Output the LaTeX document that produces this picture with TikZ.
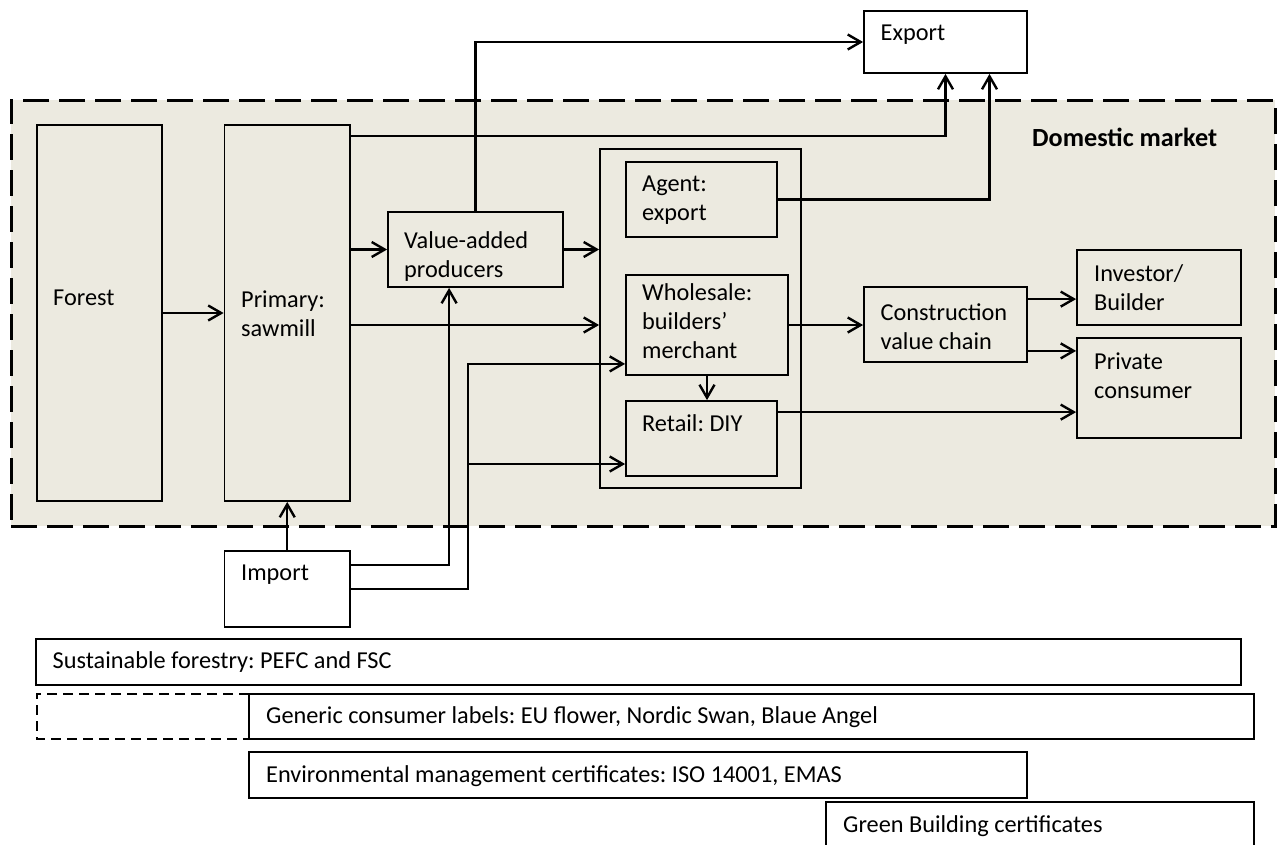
\documentclass[tikz,border=0pt]{standalone}
\usepackage{fontspec}
\setmainfont{Carlito}
\usetikzlibrary{arrows.meta,fit}
\definecolor{dombg}{RGB}{236,234,224}
\frenchspacing
\begin{document}
\begin{tikzpicture}[x=1pt,y=-1pt,
  box/.style={draw=black, line width=1.8pt, rectangle, inner sep=0pt},
  wbox/.style={box, fill=white},
  lbl/.style={inner sep=0pt, align=left, anchor=west, font=\fontsize{24.3}{29}\selectfont},
  conn/.style={line width=2.4pt, -{Straight Barb[length=13pt,width=15pt]}},
  domstyle/.style={draw=black, fill=dombg, line width=3pt, dash pattern=on 26pt off 10pt, inner sep=0pt, rectangle},
  ghoststyle/.style={line width=1.5pt, dash pattern=on 10pt off 6pt},
  ]
\useasboundingbox (0,0) rectangle (1278,844);
\clip (0,0) rectangle (1278,844);
\fill[white] (0,0) rectangle (1278,844);

% domestic market area
\node[domstyle, fit={(11,100)(1275,526)}] (dom) {};
\node[lbl, font=\fontsize{26.2}{29}\selectfont\bfseries] (domT) at (1032,137) {Domestic market};

% boxes
\node[box, fit={(37,125)(162,501)}] (forest) {};
\node[box, fit={(224.5,125)(350,501)}] (primary) {};
\node[box, fit={(388,212)(563,287)}] (va) {};
\node[box, fit={(600,149)(801,488)}] (cont) {};
\node[box, fit={(626,162)(777,237)}] (agent) {};
\node[box, fit={(626,275)(788,375)}] (whole) {};
\node[box, fit={(626,401)(777,476)}] (retail) {};
\node[box, fit={(864,287)(1027,362)}] (constr) {};
\node[box, fit={(1077,250)(1241,325)}] (invest) {};
\node[box, fit={(1077,338)(1241,438)}] (priv) {};
\node[wbox, fit={(864,11)(1027,73)}] (export) {};
\node[wbox, fit={(224.5,551)(350,627)}] (import) {};

% labels
\node[lbl] (forestT) at (53,298) {Forest};
\node[lbl] (primaryT) at (241,313.5) {Primary:\\sawmill};
\node[lbl] (vaT) at (404,257) {Value-added\\producers};
\node[lbl] (agentT) at (642,200.5) {Agent:\\export};
\node[lbl] (wholeT) at (642,321.5) {Wholesale:\\builders’\\merchant};
\node[lbl] (retailT) at (642,423) {Retail: DIY};
\node[lbl] (constrT) at (880.5,326.5) {Construction\\value chain};
\node[lbl] (investT) at (1094,287.5) {Investor/\\Builder};
\node[lbl] (privT) at (1094,376) {Private\\consumer};
\node[lbl] (exportT) at (880.5,35) {Export};
\node[lbl] (importT) at (241,575) {Import};

% connectors
\draw[conn] (forest.east) -- (primary.west);
\draw[conn] (va.west -| primary.east) -- (va.west);
\draw[conn] (primary.east |- whole.west) -- (cont.west |- whole.west);
\draw[conn] (va.east) -- (va.east -| cont.west);
\draw[conn] (whole.east) -- (whole.east -| constr.west);
\draw[conn] ([yshift=-13pt]constr.north east) -- ([yshift=-13pt]constr.north east -| invest.west);
\draw[conn] ([yshift=12pt]constr.south east) -- ([yshift=12pt]constr.south east -| priv.west);
\draw[conn] (whole.south) -- (whole.south |- retail.north);
\draw[conn] ([yshift=-12pt]retail.north east) -- ([yshift=-12pt]retail.north east -| priv.west);
\draw[conn] ([yshift=-12pt]primary.north east) -| (export.south);
\draw[conn] (agent.east) -| ([xshift=44pt]export.south);
\draw[conn] (va.north) |- (export.west);
\draw[conn] (import.north) -- (primary.south);
\draw[conn] ([yshift=-15pt]import.north east) -| ([xshift=62pt]va.south west);
\coordinate (bus) at (468,464);
\draw[conn] (import.east) -| ([yshift=12pt]whole.south west -| bus) -- ([yshift=12pt]whole.south west);
\draw[conn] (bus) -- (bus -| retail.west);

% certificate bars
\node[wbox, fit={(36,639)(1241,685)}] (sust) {};
\node[inner sep=0pt, fit={(37,694)(249,739)}] (ghost) {};
\draw[ghoststyle] (ghost.north east) -- (ghost.north west) -- (ghost.south west) -- (ghost.south east);
\node[wbox, fit={(249,694)(1254,739)}] (generic) {};
\node[wbox, fit={(249,752)(1027,798)}] (env) {};
\node[wbox, fit={(826,802)(1254,870)}] (green) {};

\node[lbl] (sustT) at (52.5,662) {Sustainable forestry: PEFC and FSC};
\node[lbl] (genericT) at (266,717) {Generic consumer labels: EU flower, Nordic Swan, Blaue Angel};
\node[lbl] (envT) at (266,776) {Environmental management certificates: ISO 14001, EMAS};
\node[lbl] (greenT) at (843,826) {Green Building certificates};
\end{tikzpicture}
\end{document}
